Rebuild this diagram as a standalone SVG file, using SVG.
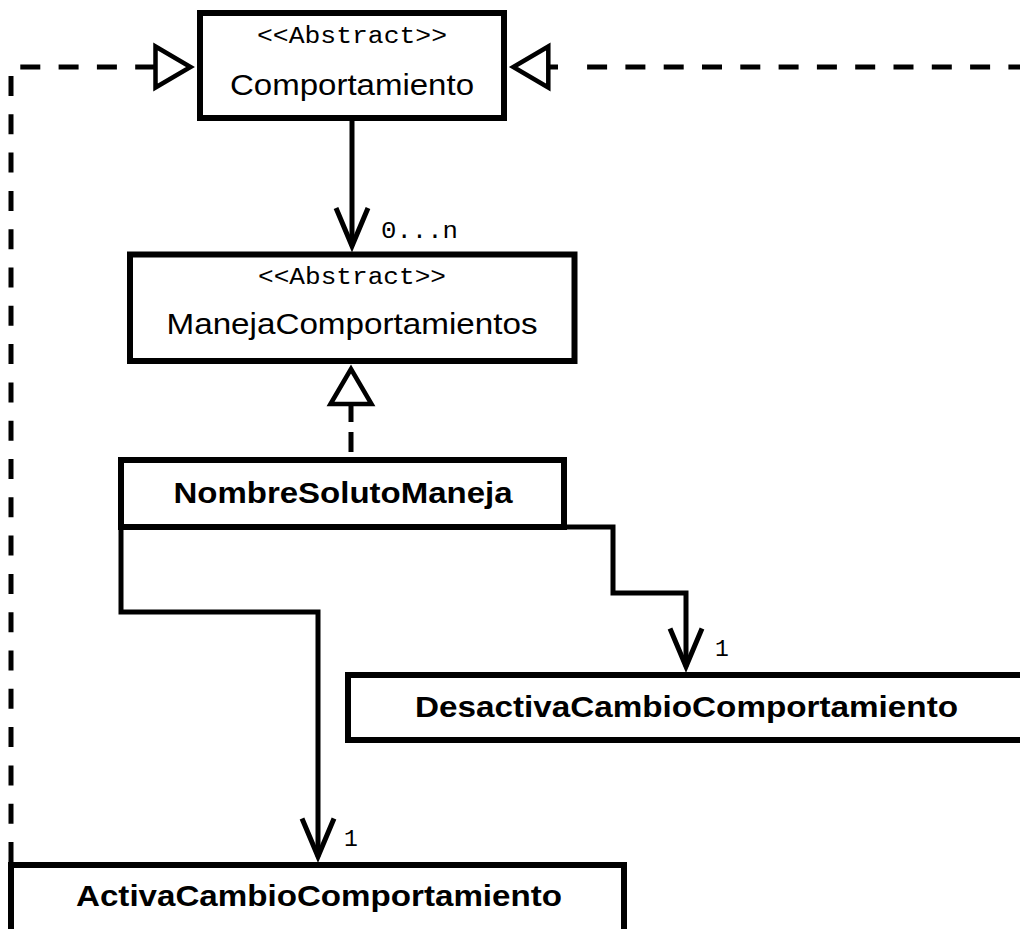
<svg xmlns="http://www.w3.org/2000/svg" width="1020" height="929" viewBox="0 0 1020 929">
  <style>
    .box { fill: #fff; stroke: #000; stroke-width: 6; }
    .name { font-family: "Liberation Sans", Arial, sans-serif; font-size: 30px; fill: #000; text-anchor: middle; }
    .bold { font-weight: bold; }
    .stereo { font-family: "Liberation Mono", "Courier New", monospace; font-size: 23px; fill: #000; text-anchor: middle; }
    .mult { font-family: "Liberation Mono", "Courier New", monospace; font-size: 23px; fill: #000; }
    .assoc { fill: none; stroke: #000; stroke-width: 5; marker-end: url(#open); }
    .gen { fill: none; stroke: #000; stroke-width: 5; stroke-dasharray: 20 18.3; }
  </style>
  <defs>
    <marker id="open" markerUnits="userSpaceOnUse" markerWidth="80" markerHeight="80" refX="0" refY="0" orient="auto" overflow="visible">
      <path d="M-38,-16 L0,0 L-38,16" fill="none" stroke="#000" stroke-width="5"/>
    </marker>
    <marker id="hollow" markerUnits="userSpaceOnUse" markerWidth="80" markerHeight="80" refX="0" refY="0" orient="auto" overflow="visible">
      <path d="M0,-20.5 L35,0 L0,20.5 Z" fill="#fff" stroke="#000" stroke-width="4.5"/>
    </marker>
  </defs>

  <!-- connectors -->
  <g id="connectors">
    <!-- ActivaCambioComportamiento realizes Comportamiento -->
    <path class="gen" d="M11,862 V67 H155.5" marker-end="url(#hollow)"/>
    <!-- DesactivaCambioComportamiento realizes Comportamiento -->
    <path class="gen" d="M1028.4,67 H586"/>
    <path d="M558,67 H548.3" fill="none" stroke="#000" stroke-width="5" marker-end="url(#hollow)"/>
    <!-- Comportamiento 0...n -> ManejaComportamientos -->
    <path class="assoc" d="M352,121 V246"/>
    <!-- NombreSolutoManeja realizes ManejaComportamientos -->
    <path d="M351,460 V404" fill="none" stroke="#000" stroke-width="5" stroke-dasharray="20 10" stroke-dashoffset="22" marker-end="url(#hollow)"/>
    <!-- NombreSolutoManeja -> DesactivaCambioComportamiento -->
    <path class="assoc" d="M564,527 H613 V593 H686 V666.5"/>
    <!-- NombreSolutoManeja -> ActivaCambioComportamiento -->
    <path class="assoc" d="M121,527 V612 H318 V856.5"/>
    <text class="mult" x="381" y="238" textLength="77" lengthAdjust="spacingAndGlyphs">0...n</text>
    <text class="mult" x="715" y="656">1</text>
    <text class="mult" x="344" y="846">1</text>
  </g>

  <g id="comportamiento">
    <rect class="box" x="200" y="13" width="304" height="105"/>
    <text class="stereo" x="352" y="43" textLength="190" lengthAdjust="spacingAndGlyphs">&lt;&lt;Abstract&gt;&gt;</text>
    <text class="name" x="352" y="95" textLength="244" lengthAdjust="spacingAndGlyphs">Comportamiento</text>
  </g>

  <g id="manejaComportamientos">
    <rect class="box" x="130" y="254.5" width="444.5" height="106.5"/>
    <text class="stereo" x="352" y="284" textLength="188" lengthAdjust="spacingAndGlyphs">&lt;&lt;Abstract&gt;&gt;</text>
    <text class="name" x="352" y="334" textLength="371" lengthAdjust="spacingAndGlyphs">ManejaComportamientos</text>
  </g>

  <g id="nombreSolutoManeja">
    <rect class="box" x="121" y="460" width="443" height="67"/>
    <text class="name bold" x="343" y="503" textLength="339" lengthAdjust="spacingAndGlyphs">NombreSolutoManeja</text>
  </g>

  <g id="desactivaCambioComportamiento">
    <rect class="box" x="348" y="675" width="690" height="65"/>
    <text class="name bold" x="686.5" y="717" textLength="543" lengthAdjust="spacingAndGlyphs">DesactivaCambioComportamiento</text>
  </g>

  <g id="activaCambioComportamiento">
    <rect class="box" x="11" y="865" width="613" height="90"/>
    <text class="name bold" x="319" y="906" textLength="486" lengthAdjust="spacingAndGlyphs">ActivaCambioComportamiento</text>
  </g>
</svg>
